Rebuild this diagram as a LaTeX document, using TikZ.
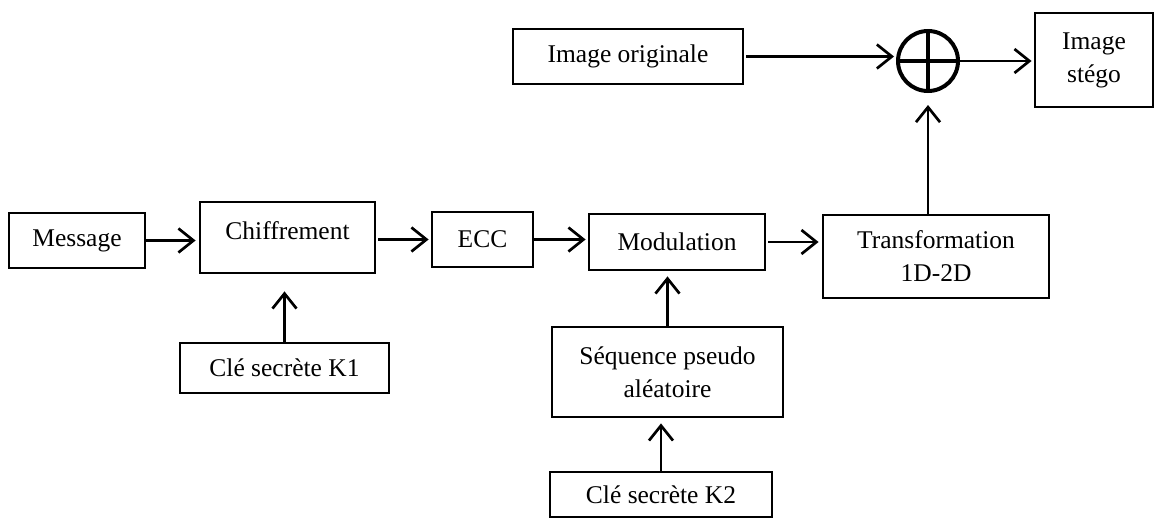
\documentclass[tikz,border=0pt]{standalone}
\usepackage{fontspec}
\setmainfont{Liberation Serif}
\usetikzlibrary{arrows.meta}
\begin{document}
\begin{tikzpicture}[x=1pt,y=-1pt,
  blk/.style={draw, line width=2.8pt, inner sep=0pt, align=center, font=\fontsize{25.5}{33}\selectfont},
  conn/.style={line width=2.7pt, -{Straight Barb[length=15pt,width=24pt]}},
]
\useasboundingbox (0,0) rectangle (1155,519);
\node[blk, minimum width=136pt, minimum height=55pt] (msg) at (77,240.5) {Message};
\node[blk, minimum width=175pt, minimum height=71pt, text depth=13pt] (chif) at (287.5,237.5) {Chiffrement};
\node[blk, minimum width=101pt, minimum height=55pt] (ecc) at (482.5,239.5) {ECC};
\node[blk, minimum width=176pt, minimum height=56pt] (mod) at (677,242) {Modulation};
\node[blk, minimum width=226pt, minimum height=83pt] (trans) at (936,256.5) {Transformation\\1D-2D};
\node[blk, minimum width=209pt, minimum height=50pt] (k1) at (284.5,368) {Clé secrète K1};
\node[blk, minimum width=231pt, minimum height=90pt] (seq) at (667.5,372) {Séquence pseudo\\aléatoire};
\node[blk, minimum width=222pt, minimum height=45pt] (k2) at (661,494.5) {Clé secrète K2};
\node[blk, minimum width=230pt, minimum height=55pt] (orig) at (628,56.5) {Image originale};
\node[blk, minimum width=118pt, minimum height=94pt] (stego) at (1094,60) {Image\\stégo};
\node[draw, circle, line width=4pt, minimum size=60pt, inner sep=0pt] (xor) at (928,61) {};
\draw[line width=3.2pt] (xor.north) -- (xor.south) (xor.west) -- (xor.east);

\draw[conn, shorten >=3pt] (msg.east) -- (chif.west |- msg.east);
\draw[conn, shorten >=2pt, shorten <=2pt] (chif.east |- ecc.west) -- (ecc.west);
\draw[conn, shorten >=2pt] (ecc.east) -- (mod.west |- ecc.east);
\draw[conn, shorten >=3pt, shorten <=2pt] (mod.east) -- (trans.west |- mod.east);
\draw[conn, shorten >=12pt] (xor.south |- trans.north) -- (xor.south);
\draw[conn, shorten >=2pt, shorten <=2pt] (orig.east) -- (xor.west |- orig.east);
\draw[conn, shorten >=2pt] (xor.east) -- (stego.west |- xor.east);
\draw[conn, shorten >=17pt] (k1.north) -- (k1.north |- chif.south);
\draw[conn, shorten >=5pt] (seq.north) -- (seq.north |- mod.south);
\draw[conn, shorten >=5pt] (k2.north) -- (k2.north |- seq.south);
\end{tikzpicture}
\end{document}
